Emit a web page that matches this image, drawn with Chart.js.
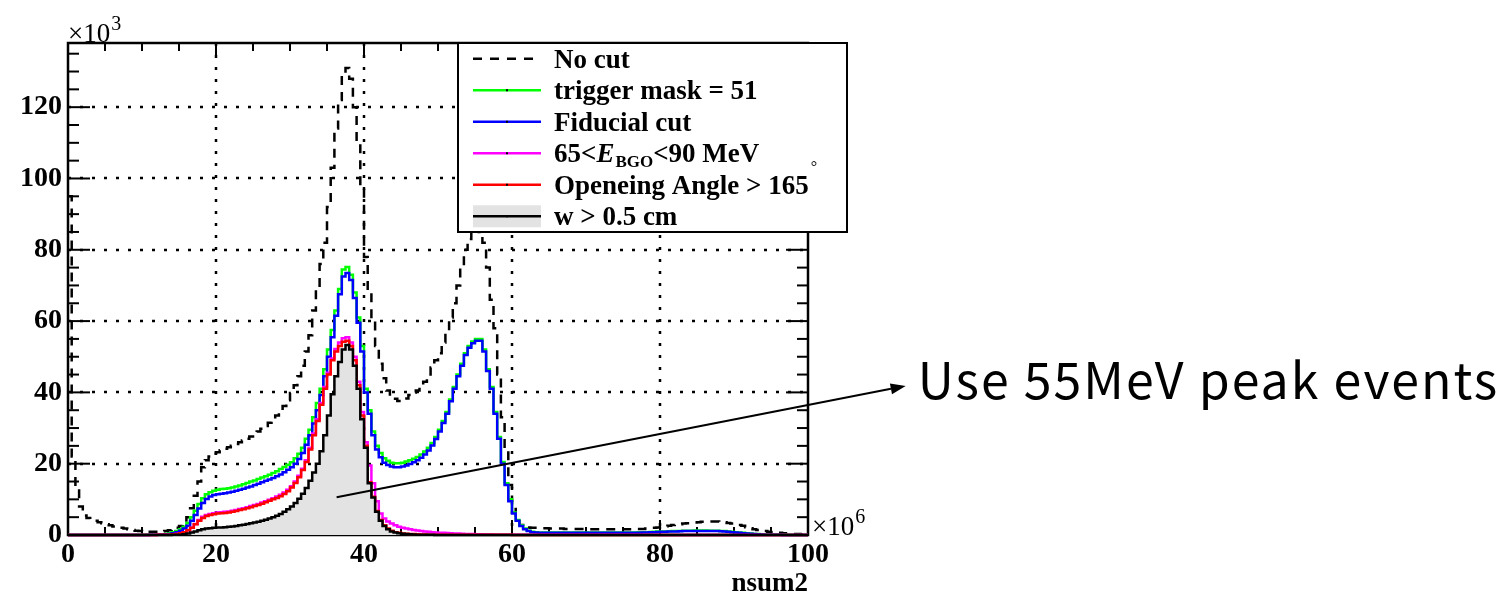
<!DOCTYPE html>
<html>
<head>
<meta charset="utf-8">
<script src="https://cdn.jsdelivr.net/npm/chart.js@4.4.0/dist/chart.umd.min.js"></script>
<style>
  html, body { margin: 0; padding: 0; background: #fff; }
  canvas { display: block; }
</style>
</head>
<body>
<canvas id="c" width="1504" height="598"></canvas>
<script>
// nsum2 histograms, 200 bins of 0.5 (x in units of 10^6, counts in units of 10^3)
const binWidth = 0.5;

const noCut = [
  95, 22, 13, 8, 5.5, 4.8, 4.4, 4.0, 3.6, 3.3, 3.0, 2.7, 2.4, 2.2, 2.0, 1.8, 1.6, 1.4, 1.2, 1.1,
  1.0, 0.9, 0.9, 0.9, 0.9, 1.0, 1.1, 1.3, 1.5, 2.0, 2.5, 3.5, 5.0, 7.5, 11, 15, 19, 21, 22, 22.8,
  23.2, 23.8, 24.2, 24.6, 25.0, 25.5, 26.0, 26.5, 27.0, 27.6, 28.3, 29.0, 29.8, 30.6, 31.5, 32.4, 33.5, 34.8, 36.2, 37.8,
  39.8, 42, 44.5, 47.5, 51.5, 56, 63, 69, 76, 82, 92, 103, 114, 122, 129, 131, 128, 120, 110, 98,
  78, 68, 60, 53, 48, 44, 40.5, 39, 38.2, 37.6, 37.6, 38.3, 39.3, 40, 40.5, 41.5, 43, 45, 47, 49,
  51, 54, 57, 61, 65, 70, 75, 80, 83, 85, 86, 85, 82, 75, 66, 58, 45, 33, 24, 14,
  8, 4.5, 2.8, 2.3, 2.1, 2.0, 2.0, 1.9, 1.9, 1.9, 1.8, 1.8, 1.8, 1.8, 1.7, 1.7, 1.7, 1.7, 1.7, 1.7,
  1.6, 1.6, 1.6, 1.6, 1.6, 1.6, 1.6, 1.6, 1.6, 1.6, 1.6, 1.6, 1.6, 1.6, 1.7, 1.7, 1.8, 1.9, 2.0, 2.1,
  2.2, 2.4, 2.6, 2.8, 2.9, 3.0, 3.2, 3.3, 3.4, 3.5, 3.6, 3.7, 3.7, 3.8, 3.8, 3.8, 3.7, 3.6, 3.4, 3.2,
  3.0, 2.8, 2.6, 2.2, 1.9, 1.6, 1.4, 1.2, 1.1, 0.9, 0.8, 0.7, 0.6, 0.5, 0.4, 0.35, 0.3, 0.25, 0.2, 0.2
];

const triggerMask = [
  0, 0, 0, 0, 0, 0, 0, 0, 0, 0, 0, 0, 0, 0, 0, 0, 0, 0, 0, 0,
  0.05, 0.05, 0.1, 0.1, 0.15, 0.2, 0.3, 0.5, 0.8, 1.1, 1.6, 2.3, 3.4, 5.0, 6.8, 8.7, 10.3, 11.4, 12.0, 12.4,
  12.7, 12.9, 13.0, 13.1, 13.3, 13.6, 13.9, 14.2, 14.6, 15.0, 15.3, 15.7, 16.1, 16.5, 16.9, 17.4, 17.9, 18.5, 19.1, 19.7,
  20.4, 21.5, 22.8, 24.5, 27, 29.5, 33, 37, 41, 46.5, 52, 57.5, 63, 69, 74.5, 75.2, 73, 68, 61, 53,
  41, 35, 29, 25, 23, 21.5, 20.8, 20.3, 20.1, 20.1, 20.3, 20.6, 21.0, 21.4, 21.9, 22.6, 23.4, 24.5, 25.8, 27.5,
  29.5, 32, 34.5, 38, 41.5, 45, 48, 51, 53, 54.3, 55, 55, 52, 46.5, 41.5, 34.5, 27.5, 20.5, 14.5, 10,
  6.3, 4.2, 2.7, 1.8, 1.2, 0.9, 0.8, 0.7, 0.7, 0.7, 0.7, 0.7, 0.7, 0.7, 0.7, 0.7, 0.7, 0.7, 0.7, 0.7,
  0.7, 0.7, 0.7, 0.7, 0.7, 0.7, 0.7, 0.7, 0.7, 0.7, 0.7, 0.7, 0.7, 0.7, 0.75, 0.8, 0.8, 0.85, 0.9, 0.95,
  1.0, 1.0, 1.05, 1.1, 1.1, 1.15, 1.2, 1.2, 1.2, 1.25, 1.25, 1.25, 1.25, 1.2, 1.2, 1.2, 1.15, 1.1, 1.0, 0.9,
  0.8, 0.7, 0.6, 0.5, 0.4, 0.3, 0.25, 0.2, 0.15, 0.1, 0.1, 0.08, 0.06, 0.05, 0.04, 0.03, 0.02, 0.02, 0.01, 0.01
];

const fiducial = [
  0, 0, 0, 0, 0, 0, 0, 0, 0, 0, 0, 0, 0, 0, 0, 0, 0, 0, 0, 0,
  0, 0, 0.05, 0.05, 0.1, 0.15, 0.2, 0.3, 0.5, 0.8, 1.2, 1.8, 2.6, 4.0, 5.6, 7.4, 9.0, 10.1, 10.8, 11.2,
  11.4, 11.6, 11.7, 11.9, 12.1, 12.4, 12.7, 13.0, 13.3, 13.6, 14.0, 14.4, 14.8, 15.2, 15.6, 16.0, 16.5, 17.0, 17.6, 18.3,
  19.0, 20.0, 21.3, 23.0, 25.3, 28.0, 31.3, 35.0, 39.3, 44.5, 50.0, 55.5, 61.5, 67.5, 72.5, 73.5, 71.5, 66.5, 59.5, 51.5,
  40, 34, 28, 24, 21.8, 20.3, 19.6, 19.2, 19.0, 19.0, 19.2, 19.5, 19.9, 20.4, 21.0, 21.7, 22.6, 23.7, 25.1, 26.9,
  29, 31.4, 34, 37.5, 41, 44.5, 47.5, 50.5, 52.5, 53.8, 54.5, 54.5, 51.5, 46, 41, 34, 27, 20, 14, 9.5,
  6, 4, 2.5, 1.6, 1.1, 0.8, 0.7, 0.65, 0.6, 0.6, 0.6, 0.6, 0.6, 0.6, 0.6, 0.6, 0.6, 0.6, 0.6, 0.6,
  0.6, 0.6, 0.6, 0.6, 0.6, 0.6, 0.6, 0.6, 0.6, 0.6, 0.6, 0.6, 0.6, 0.6, 0.65, 0.7, 0.7, 0.75, 0.8, 0.85,
  0.9, 0.9, 0.95, 1.0, 1.0, 1.05, 1.1, 1.1, 1.1, 1.15, 1.15, 1.15, 1.15, 1.1, 1.1, 1.1, 1.05, 1.0, 0.9, 0.8,
  0.7, 0.6, 0.5, 0.4, 0.35, 0.3, 0.2, 0.15, 0.1, 0.08, 0.06, 0.05, 0.04, 0.03, 0.02, 0.02, 0.01, 0.01, 0.01, 0.01
];

const eBgo = [
  0, 0, 0, 0, 0, 0, 0, 0, 0, 0, 0, 0, 0, 0, 0, 0, 0, 0, 0, 0,
  0, 0, 0, 0, 0.05, 0.05, 0.1, 0.1, 0.2, 0.3, 0.5, 0.8, 1.3, 2.0, 3.1, 4.2, 5.1, 5.6, 5.9, 6.1,
  6.3, 6.4, 6.5, 6.6, 6.8, 7.0, 7.3, 7.5, 7.8, 8.1, 8.4, 8.7, 9.1, 9.5, 9.9, 10.3, 10.8, 11.3, 11.9, 12.7,
  13.7, 15.0, 16.6, 18.6, 21.0, 24.5, 28.5, 32.5, 37, 41.5, 45.5, 49.5, 52.2, 54, 55.2, 55.5, 54, 50, 43, 34.5,
  26, 19.5, 14.5, 9.5, 6, 4.6, 3.8, 3.2, 2.7, 2.3, 2.0, 1.8, 1.6, 1.4, 1.25, 1.1, 1.0, 0.9, 0.8, 0.7,
  0.65, 0.6, 0.55, 0.5, 0.45, 0.4, 0.35, 0.3, 0.3, 0.25, 0.2, 0.2, 0.15, 0.15, 0.12, 0.1, 0.1, 0.08, 0.08, 0.06,
  0.05, 0.05, 0.05, 0.05, 0.05, 0.05, 0.05, 0.05, 0.05, 0.05, 0.05, 0.05, 0.05, 0.05, 0.05, 0.05, 0.05, 0.05, 0.05, 0.05,
  0.04, 0.04, 0.04, 0.04, 0.04, 0.04, 0.04, 0.04, 0.04, 0.04, 0.04, 0.04, 0.04, 0.04, 0.04, 0.04, 0.04, 0.04, 0.04, 0.04,
  0.03, 0.03, 0.03, 0.03, 0.03, 0.03, 0.03, 0.03, 0.03, 0.03, 0.03, 0.03, 0.03, 0.03, 0.03, 0.03, 0.03, 0.03, 0.03, 0.03,
  0.02, 0.02, 0.02, 0.02, 0.02, 0.02, 0.02, 0.02, 0.02, 0.02, 0.02, 0.02, 0.02, 0.02, 0.02, 0.02, 0.02, 0.02, 0.02, 0.02
];

const openingAngle = [
  0, 0, 0, 0, 0, 0, 0, 0, 0, 0, 0, 0, 0, 0, 0, 0, 0, 0, 0, 0,
  0, 0, 0, 0, 0.05, 0.05, 0.1, 0.1, 0.2, 0.3, 0.5, 0.8, 1.3, 2.0, 3.0, 4.0, 4.8, 5.3, 5.6, 5.8,
  6.0, 6.1, 6.2, 6.3, 6.5, 6.7, 7.0, 7.2, 7.5, 7.8, 8.1, 8.4, 8.8, 9.2, 9.6, 10.0, 10.4, 10.9, 11.5, 12.3,
  13.3, 14.6, 16.2, 18.2, 20.5, 24, 28, 32, 36.5, 41, 45, 49, 51.5, 53, 54.2, 54.5, 53, 49, 42, 33.5,
  25, 14.8, 10.7, 6.7, 4.2, 2.7, 1.8, 1.2, 0.8, 0.6, 0.45, 0.35, 0.3, 0.25, 0.2, 0.15, 0.12, 0.1, 0.08, 0.06,
  0.05, 0.05, 0.05, 0.05, 0.05, 0.05, 0.05, 0.05, 0.05, 0.05, 0.05, 0.05, 0.05, 0.05, 0.05, 0.05, 0.05, 0.05, 0.05, 0.05,
  0.03, 0.03, 0.03, 0.03, 0.03, 0.03, 0.03, 0.03, 0.03, 0.03, 0.03, 0.03, 0.03, 0.03, 0.03, 0.03, 0.03, 0.03, 0.03, 0.03,
  0.02, 0.02, 0.02, 0.02, 0.02, 0.02, 0.02, 0.02, 0.02, 0.02, 0.02, 0.02, 0.02, 0.02, 0.02, 0.02, 0.02, 0.02, 0.02, 0.02,
  0.02, 0.02, 0.02, 0.02, 0.02, 0.02, 0.02, 0.02, 0.02, 0.02, 0.02, 0.02, 0.02, 0.02, 0.02, 0.02, 0.02, 0.02, 0.02, 0.02,
  0.01, 0.01, 0.01, 0.01, 0.01, 0.01, 0.01, 0.01, 0.01, 0.01, 0.01, 0.01, 0.01, 0.01, 0.01, 0.01, 0.01, 0.01, 0.01, 0.01
];

const wCut = [
  0, 0, 0, 0, 0, 0, 0, 0, 0, 0, 0, 0, 0, 0, 0, 0, 0, 0, 0, 0,
  0, 0, 0, 0, 0, 0, 0.02, 0.03, 0.05, 0.08, 0.1, 0.2, 0.4, 0.7, 1.0, 1.3, 1.6, 1.8, 1.9, 2.0,
  2.1, 2.1, 2.2, 2.3, 2.4, 2.5, 2.7, 2.9, 3.1, 3.3, 3.5, 3.7, 4.0, 4.3, 4.6, 5.0, 5.4, 5.9, 6.5, 7.2,
  8.0, 9.0, 10.2, 11.6, 13.2, 15.2, 17.5, 20, 23.5, 28, 33.5, 39.5, 44.5, 48.5, 52, 53.3, 52, 47.5, 41, 32.5,
  24.5, 14.5, 10.5, 6.5, 4, 2.5, 1.6, 1.0, 0.7, 0.5, 0.35, 0.25, 0.2, 0.15, 0.1, 0.08, 0.06, 0.05, 0.04, 0.03,
  0.02, 0.02, 0.02, 0.02, 0.02, 0.02, 0.02, 0.02, 0.02, 0.02, 0.02, 0.02, 0.02, 0.02, 0.02, 0.02, 0.02, 0.02, 0.02, 0.02,
  0.01, 0.01, 0.01, 0.01, 0.01, 0.01, 0.01, 0.01, 0.01, 0.01, 0.01, 0.01, 0.01, 0.01, 0.01, 0.01, 0.01, 0.01, 0.01, 0.01,
  0.01, 0.01, 0.01, 0.01, 0.01, 0.01, 0.01, 0.01, 0.01, 0.01, 0.01, 0.01, 0.01, 0.01, 0.01, 0.01, 0.01, 0.01, 0.01, 0.01,
  0.01, 0.01, 0.01, 0.01, 0.01, 0.01, 0.01, 0.01, 0.01, 0.01, 0.01, 0.01, 0.01, 0.01, 0.01, 0.01, 0.01, 0.01, 0.01, 0.01,
  0, 0, 0, 0, 0, 0, 0, 0, 0, 0, 0, 0, 0, 0, 0, 0, 0, 0, 0, 0
];

const seriesLabels = ['No cut', 'trigger mask = 51', 'Fiducial cut', '65<E_BGO<90 MeV', 'Openeing Angle > 165°', 'w > 0.5 cm'];
const xTickLabels = [0, 20, 40, 60, 80, 100];
const yTickLabels = [0, 20, 40, 60, 80, 100, 120];
const xAxisTitle = 'nsum2';
const noteText = 'Use 55MeV peak events';
const notePoint = [36.3, 10.6];      // arrow tail, data units
const noteTip = [113.2, 41.8];       // arrow head, data units (outside the frame)

const serif = '"Liberation Serif", "Times New Roman", serif';
const lineColors = ['#000000', '#00ff00', '#0000ff', '#ff00ff', '#ff0000', '#000000'];

function toSteps(values) {
  const pts = values.map((v, i) => ({ x: i * binWidth, y: v }));
  pts.push({ x: values.length * binWidth, y: values[values.length - 1] });
  return pts;
}

function seg(ctx, x1, y1, x2, y2) {
  ctx.beginPath();
  ctx.moveTo(x1, y1);
  ctx.lineTo(x2, y2);
  ctx.stroke();
}

// ROOT-like frame: dotted grid, inward ticks on all four sides, solid box
const rootFrame = {
  id: 'rootFrame',
  beforeDatasetsDraw(chart) {
    const { ctx, chartArea: a, scales: { x, y } } = chart;
    ctx.save();
    ctx.strokeStyle = '#000';
    ctx.lineWidth = 2.5;
    ctx.setLineDash([3, 9]);
    xTickLabels.slice(1, -1).forEach(v => {
      const p = Math.round(x.getPixelForValue(v));
      seg(ctx, p, a.top, p, a.bottom);
    });
    yTickLabels.slice(1).forEach(v => {
      const p = Math.round(y.getPixelForValue(v));
      seg(ctx, a.left, p, a.right, p);
    });
    ctx.setLineDash([]);

    ctx.lineWidth = 2;
    for (let v = 0; v <= 100; v += 5) {
      const p = x.getPixelForValue(v);
      const len = v % 20 === 0 ? 15 : 8;
      seg(ctx, p, a.bottom, p, a.bottom - len);
      seg(ctx, p, a.top, p, a.top + len);
    }
    for (let v = 0; v <= y.max; v += 5) {
      const p = y.getPixelForValue(v);
      const len = v % 20 === 0 ? 22 : 11;
      seg(ctx, a.left, p, a.left + len, p);
      seg(ctx, a.right, p, a.right - len, p);
    }
    ctx.lineWidth = 2.5;
    ctx.strokeRect(a.left, a.top, a.right - a.left, a.bottom - a.top);
    ctx.restore();
  },
  afterDatasetsDraw(chart) {
    const { ctx, chartArea: a, scales: { x, y } } = chart;
    ctx.save();
    ctx.fillStyle = '#000';
    ctx.textBaseline = 'alphabetic';
    ctx.textAlign = 'left';

    // axis multipliers
    ctx.font = '27px ' + serif;
    ctx.fillText('\u00d710', a.left, a.top - 1);
    let w = ctx.measureText('\u00d710').width;
    ctx.font = '20px ' + serif;
    ctx.fillText('3', a.left + w + 1, a.top - 13);
    ctx.font = '27px ' + serif;
    ctx.fillText('\u00d710', a.right + 4, a.bottom);
    w = ctx.measureText('\u00d710').width;
    ctx.font = '20px ' + serif;
    ctx.fillText('6', a.right + 4 + w + 1, a.bottom - 12);

    // legend box
    const lx = 458, ly = a.top, lw = 389, lh = 189;
    ctx.fillStyle = '#fff';
    ctx.fillRect(lx, ly, lw, lh);
    ctx.strokeStyle = '#000';
    ctx.lineWidth = 2;
    ctx.strokeRect(lx, ly, lw, lh);

    const rowH = lh / 6;
    const bold = 'bold 27px ' + serif;
    seriesLabels.forEach((label, i) => {
      const cy = ly + rowH * (i + 0.5);
      const sx1 = lx + 15, sx2 = lx + 83;
      ctx.save();
      if (i === 5) {
        ctx.fillStyle = '#e3e3e3';
        ctx.fillRect(sx1, cy - 11, sx2 - sx1, 22);
      }
      ctx.strokeStyle = lineColors[i];
      ctx.lineWidth = 2.5;
      if (i === 0) ctx.setLineDash([9, 8]);
      seg(ctx, sx1, cy, sx2, cy);
      ctx.restore();
      if (i > 0) {
        ctx.fillStyle = '#000';
        ctx.fillRect((sx1 + sx2) / 2 - 1, cy - 1, 2, 2);
      }

      ctx.fillStyle = '#000';
      let tx = lx + 96;
      const base = cy + 9;
      if (i === 3) {
        ctx.font = bold;
        ctx.fillText('65<', tx, base); tx += ctx.measureText('65<').width;
        ctx.font = 'italic bold 27px ' + serif;
        ctx.fillText('E', tx, base); tx += ctx.measureText('E').width + 1;
        ctx.font = 'bold 17px ' + serif;
        ctx.fillText('BGO', tx, base + 5); tx += ctx.measureText('BGO').width;
        ctx.font = bold;
        ctx.fillText('<90 MeV', tx, base);
      } else if (i === 4) {
        const main = label.slice(0, -1);
        ctx.font = bold;
        ctx.fillText(main, tx, base); tx += ctx.measureText(main).width;
        ctx.font = '16px ' + serif;
        ctx.fillText(label.slice(-1), tx + 2, base - 22);
      } else {
        ctx.font = bold;
        ctx.fillText(label, tx, base);
      }
    });

    // annotation arrow and note
    const x0 = x.getPixelForValue(notePoint[0]), y0 = y.getPixelForValue(notePoint[1]);
    const x1 = x.getPixelForValue(noteTip[0]), y1 = y.getPixelForValue(noteTip[1]);
    const ang = Math.atan2(y1 - y0, x1 - x0);
    const headL = 15, headW = 5.5;
    ctx.strokeStyle = '#000';
    ctx.lineWidth = 2;
    seg(ctx, x0, y0, x1 - headL * Math.cos(ang), y1 - headL * Math.sin(ang));
    ctx.beginPath();
    ctx.moveTo(x1, y1);
    ctx.lineTo(x1 - headL * Math.cos(ang) + headW * Math.sin(ang), y1 - headL * Math.sin(ang) - headW * Math.cos(ang));
    ctx.lineTo(x1 - headL * Math.cos(ang) - headW * Math.sin(ang), y1 - headL * Math.sin(ang) + headW * Math.cos(ang));
    ctx.closePath();
    ctx.fillStyle = '#000';
    ctx.fill();

    ctx.font = '50px "Noto Sans CJK JP", "Noto Sans", sans-serif';
    ctx.letterSpacing = '2px';
    ctx.textBaseline = 'middle';
    ctx.fillText(noteText, x1 + 12, y1 - 6);
    ctx.restore();
  }
};

const tickFont = { family: serif, size: 28, weight: 'bold' };

const datasetStyles = [
  { borderColor: lineColors[0], borderWidth: 2.5, borderDash: [9, 7], order: 5 },
  { borderColor: lineColors[1], borderWidth: 2.5, order: 4 },
  { borderColor: lineColors[2], borderWidth: 2.5, order: 3 },
  { borderColor: lineColors[3], borderWidth: 2.5, order: 2 },
  { borderColor: lineColors[4], borderWidth: 2.5, order: 1 },
  { borderColor: lineColors[5], borderWidth: 2.5, order: 0, fill: 'origin', backgroundColor: '#e3e3e3' }
];
const seriesValues = [noCut, triggerMask, fiducial, eBgo, openingAngle, wCut];

new Chart(document.getElementById('c'), {
  type: 'line',
  data: {
    datasets: seriesValues.map((vals, i) => Object.assign({
      label: seriesLabels[i],
      data: toSteps(vals),
      stepped: true,
      pointRadius: 0,
      fill: false,
      clip: false,
      tension: 0
    }, datasetStyles[i]))
  },
  options: {
    responsive: false,
    animation: false,
    events: [],
    layout: { padding: { top: 43, right: 696, left: 0, bottom: 0 } },
    plugins: { legend: { display: false }, tooltip: { enabled: false } },
    scales: {
      x: {
        type: 'linear', min: 0, max: 100,
        grid: { display: false, drawTicks: false },
        border: { display: false },
        ticks: { stepSize: 20, autoSkip: false, maxRotation: 0, padding: 3, color: '#000', font: tickFont },
        title: { display: true, text: xAxisTitle, align: 'end', color: '#000', font: { family: serif, size: 27, weight: 'bold', lineHeight: 1 }, padding: { top: 0, bottom: 0 } },
        afterFit: s => { s.height = 63; }
      },
      y: {
        type: 'linear', min: 0, max: 138,
        grid: { display: false, drawTicks: false },
        border: { display: false },
        ticks: { stepSize: 20, includeBounds: false, autoSkip: false, padding: 6, color: '#000', font: tickFont },
        afterFit: s => { s.width = 68; }
      }
    }
  },
  plugins: [rootFrame]
});
</script>
</body>
</html>
